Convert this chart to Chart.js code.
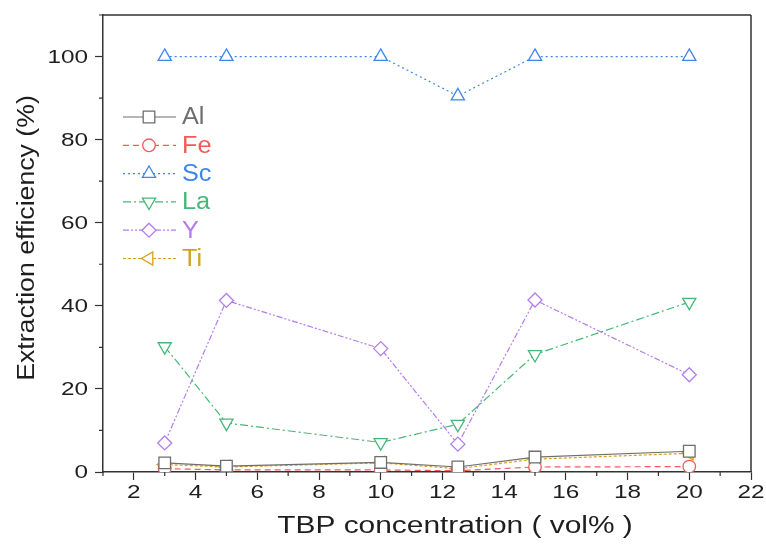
<!DOCTYPE html>
<html>
<head>
<meta charset="utf-8">
<script src="https://cdn.jsdelivr.net/npm/chart.js@4.4.1/dist/chart.umd.min.js"></script>
<style>
  html, body { margin: 0; padding: 0; background: #fff; }
  #wrap { width: 766px; height: 546px; }
</style>
</head>
<body>
<div id="wrap"><canvas id="myChart" width="766" height="546"></canvas></div>
<script>
// TBP concentration (vol%)
const tbp = [3, 5, 10, 12.5, 15, 20];

// extraction efficiency (%)
const al = [2.2, 1.4, 2.3, 1.2, 3.6, 5.0];
const fe = [0.8, 0.5, 0.5, 0.3, 1.2, 1.3];
const sc = [100, 100, 100, 90.5, 100, 100];
const la = [30.2, 11.8, 7.1, 11.5, 28.3, 40.9];
const yy = [7.0, 41.3, 29.7, 6.7, 41.4, 23.4];
const ti = [1.8, 1.2, 2.2, 0.8, 3.1, 4.5];

const xLabels = [2, 4, 6, 8, 10, 12, 14, 16, 18, 20, 22];
const yLabels = [0, 20, 40, 60, 80, 100];
const xTitle = 'TBP concentration ( vol% )';
const yTitle = 'Extraction efficiency (%)';

const pts = vals => tbp.map((x, i) => ({ x: x, y: vals[i] }));

const serie = (label, vals, color, dash, style, rot, r) => ({
  label: label,
  data: pts(vals),
  borderColor: color,
  backgroundColor: color,
  borderWidth: 1.2,
  borderDash: dash,
  pointStyle: style,
  rotation: rot,
  pointRadius: r,
  pointHoverRadius: r,
  pointBorderWidth: 1.3,
  pointBackgroundColor: '#ffffff',
  pointBorderColor: color,
  tension: 0
});

const datasets = [
  serie('Al', al, '#6e6e6e', [], 'rect', 0, 8.2),
  serie('Fe', fe, '#f25a5a', [6, 4], 'circle', 0, 6.3),
  serie('Sc', sc, '#3f86ea', [2, 3], 'triangle', 0, 7.6),
  serie('La', la, '#45b878', [8, 3, 2, 3], 'triangle', 180, 7.6),
  serie('Y', yy, '#b47ced', [6, 2, 2, 2, 2, 2], 'rectRot', 0, 7),
  serie('Ti', ti, '#d4a21c', [3, 2], 'triangle', 270, 7.6)
];

const FONT = '"Liberation Sans", Arial, sans-serif';

// text a bit wider than the font draws it, like the figure
function wideText(ctx, txt, x, y, size, sx, align) {
  ctx.save();
  ctx.font = size + 'px ' + FONT;
  ctx.textBaseline = 'middle';
  const w = ctx.measureText(txt).width * sx;
  let left = x;
  if (align === 'center') left = x - w / 2;
  if (align === 'right') left = x - w;
  ctx.translate(left, y);
  ctx.scale(sx, 1);
  ctx.textAlign = 'left';
  ctx.fillText(txt, 0, 0);
  ctx.restore();
}

// frame box, minor ticks, labels and the inline legend
const extras = {
  id: 'extras',
  afterDraw(chart) {
    const ctx = chart.ctx;
    const a = chart.chartArea;
    const xs = chart.scales.x, ys = chart.scales.y;
    ctx.save();
    ctx.strokeStyle = '#333';
    ctx.lineWidth = 1.5;
    ctx.beginPath();
    ctx.moveTo(a.left, a.top); ctx.lineTo(a.right, a.top);
    ctx.moveTo(a.right, a.top); ctx.lineTo(a.right, a.bottom);
    ctx.stroke();

    ctx.lineWidth = 1.2;
    ctx.beginPath();
    for (let v = 1; v <= 21; v += 2) {
      const px = xs.getPixelForValue(v);
      ctx.moveTo(px, a.bottom); ctx.lineTo(px, a.bottom + 4);
    }
    for (let v = 10; v <= 110; v += 20) {
      const py = ys.getPixelForValue(v);
      ctx.moveTo(a.left, py); ctx.lineTo(a.left - 4, py);
    }
    ctx.stroke();

    // tick labels and axis titles
    ctx.fillStyle = '#1e1e1e';
    xLabels.forEach(v => wideText(ctx, String(v), xs.getPixelForValue(v), a.bottom + 21, 19, 1.28, 'center'));
    yLabels.forEach(v => wideText(ctx, String(v), a.left - 15, ys.getPixelForValue(v) + 1, 19, 1.28, 'right'));
    wideText(ctx, xTitle, 455, a.bottom + 55, 23, 1.3, 'center');
    ctx.save();
    ctx.translate(28, 238);
    ctx.rotate(-Math.PI / 2);
    wideText(ctx, yTitle, 0, 0, 23, 1.16, 'center');
    ctx.restore();

    // legend
    const x0 = a.left + 20, x1 = a.left + 73, xm = a.left + 46;
    chart.data.datasets.forEach((ds, i) => {
      const y = a.top + 102 + i * 28.3;
      ctx.strokeStyle = ds.borderColor;
      ctx.lineWidth = 1.2;
      ctx.setLineDash(ds.borderDash);
      ctx.beginPath();
      ctx.moveTo(x0, y); ctx.lineTo(x1, y);
      ctx.stroke();
      ctx.setLineDash([]);
      ctx.fillStyle = '#fff';
      ctx.strokeStyle = ds.borderColor;
      ctx.lineWidth = ds.pointBorderWidth;
      Chart.helpers.drawPoint(ctx, {
        pointStyle: ds.pointStyle,
        rotation: ds.rotation,
        radius: ds.pointRadius,
        borderWidth: ds.pointBorderWidth
      }, xm, y);
      ctx.fillStyle = ds.borderColor;
      wideText(ctx, ds.label, x1 + 6, y + 1, 23, 1.1, 'left');
    });
    ctx.restore();
  }
};

new Chart(document.querySelector('#myChart'), {
  type: 'line',
  data: { datasets: datasets },
  options: {
    responsive: false,
    animation: false,
    layout: { padding: { top: 15, right: 15, left: 0, bottom: 0 } },
    plugins: { legend: { display: false }, tooltip: { enabled: false } },
    scales: {
      x: {
        type: 'linear',
        min: 1,
        max: 22,
        afterFit: s => { s.height = 74; },
        border: { display: true, color: '#333', width: 1.5 },
        grid: {
          drawOnChartArea: false,
          drawTicks: true,
          tickLength: 8,
          tickWidth: 1.2,
          tickColor: c => (xLabels.includes(c.tick.value) ? '#333' : 'rgba(0,0,0,0)')
        },
        ticks: { stepSize: 1, autoSkip: false, display: false }
      },
      y: {
        min: 0,
        max: 110,
        afterFit: s => { s.width = 103; },
        border: { display: true, color: '#333', width: 1.5 },
        grid: {
          drawOnChartArea: false,
          drawTicks: true,
          tickLength: 8,
          tickWidth: 1.2,
          tickColor: c => (yLabels.includes(c.tick.value) ? '#333' : 'rgba(0,0,0,0)')
        },
        ticks: { stepSize: 10, autoSkip: false, display: false }
      }
    }
  },
  plugins: [extras]
});
</script>
</body>
</html>
